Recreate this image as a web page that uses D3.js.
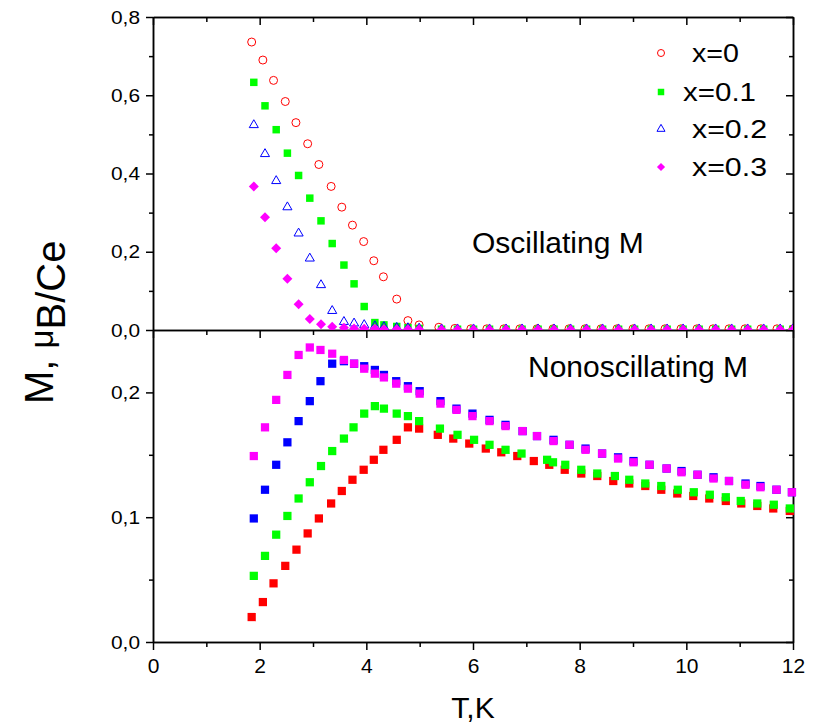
<!DOCTYPE html>
<html>
<head>
<meta charset="utf-8">
<script src="https://cdn.jsdelivr.net/npm/d3@7"></script>
<style>
  body { margin: 0; background: #fff; }
  text { font-family: "Liberation Sans", Arial, sans-serif; }
</style>
</head>
<body>
<div id="my_dataviz"></div>
<script>
// ---- data ----
// top panel: oscillating M
var oscT0 = [1.85, 2.06, 2.26, 2.48, 2.68, 2.90, 3.11, 3.34, 3.54, 3.74, 3.95, 4.14, 4.32, 4.57, 4.78, 4.99,
    5.36, 5.66, 5.96, 6.26, 6.58, 6.88, 7.20, 7.50, 7.80, 8.10, 8.40, 8.70, 9.00, 9.30, 9.60, 9.90, 10.20, 10.50, 10.80, 11.10, 11.40, 11.70, 12.00];
var oscM0 = [0.736, 0.690, 0.638, 0.584, 0.530, 0.476, 0.423, 0.367, 0.314, 0.268, 0.226, 0.177, 0.136, 0.079, 0.024, 0.013,
    0.007, 0.004, 0.003, 0.003, 0.003, 0.003, 0.003, 0.003, 0.003, 0.003, 0.003, 0.003, 0.003, 0.003, 0.003, 0.003, 0.003, 0.003, 0.003, 0.003, 0.003, 0.003, 0.003];
var oscT = [1.89, 2.10, 2.31, 2.52, 2.73, 2.94, 3.15, 3.36, 3.58, 3.77, 3.96, 4.16, 4.33, 4.57, 4.78, 4.99,
    5.41, 5.71, 6.01, 6.31, 6.62, 6.92, 7.22, 7.52, 7.83, 8.13, 8.43, 8.73, 9.03, 9.34, 9.64, 9.94, 10.24, 10.55, 10.85, 11.15, 11.45, 11.76, 12.00];
var oscM1 = [0.633, 0.573, 0.512, 0.452, 0.395, 0.337, 0.279, 0.221, 0.166, 0.118, 0.060, 0.019, 0.013, 0.009, 0.006, 0.004,
    0.002, 0.002, 0.002, 0.002, 0.002, 0.002, 0.002, 0.002, 0.002, 0.002, 0.002, 0.002, 0.002, 0.002, 0.002, 0.002, 0.002, 0.002, 0.002, 0.002, 0.002, 0.002, 0.002];
var oscM2 = [0.524, 0.450, 0.381, 0.314, 0.247, 0.183, 0.115, 0.049, 0.021, 0.017, 0.013, 0.010, 0.008, 0.006, 0.005, 0.004,
    0.002, 0.002, 0.002, 0.002, 0.002, 0.002, 0.002, 0.002, 0.002, 0.002, 0.002, 0.002, 0.002, 0.002, 0.002, 0.002, 0.002, 0.002, 0.002, 0.002, 0.002, 0.002, 0.002];
var oscM3 = [0.367, 0.288, 0.209, 0.131, 0.066, 0.028, 0.015, 0.008, 0.006, 0.004, 0.003, 0.003, 0.002, 0.002, 0.002, 0.002,
    0.001, 0.001, 0.001, 0.001, 0.001, 0.001, 0.001, 0.001, 0.001, 0.001, 0.001, 0.001, 0.001, 0.001, 0.001, 0.001, 0.001, 0.001, 0.001, 0.001, 0.001, 0.001, 0.001];

// bottom panel: nonoscillating M
var nonT0 = [1.85, 2.06, 2.26, 2.48, 2.69, 2.90, 3.11, 3.34, 3.54, 3.74, 3.95, 4.14, 4.32, 4.57, 4.78, 4.99,
    5.34, 5.63, 5.93, 6.24, 6.53, 6.83, 7.14, 7.43, 7.72, 8.03, 8.33, 8.63, 8.93, 9.23, 9.53, 9.83, 10.13, 10.43, 10.74, 11.03, 11.33, 11.63, 11.94];
var nonM0 = [0.020, 0.032, 0.047, 0.061, 0.074, 0.087, 0.099, 0.111, 0.121, 0.130, 0.138, 0.146, 0.154, 0.162, 0.172, 0.171,
    0.166, 0.163, 0.159, 0.155, 0.152, 0.149, 0.145, 0.142, 0.138, 0.135, 0.133, 0.129, 0.127, 0.125, 0.122, 0.119, 0.117, 0.115, 0.113, 0.111, 0.109, 0.107, 0.105];
var nonT1 = [1.89, 2.10, 2.31, 2.52, 2.73, 2.94, 3.15, 3.36, 3.58, 3.76, 3.96, 4.16, 4.33, 4.57, 4.78, 4.99,
    5.38, 5.71, 6.02, 6.31, 6.61, 6.91, 7.39, 7.50, 7.73, 8.03, 8.33, 8.66, 8.93, 9.23, 9.53, 9.84, 10.14, 10.44, 10.74, 11.02, 11.33, 11.64, 11.94];
var nonM1 = [0.053, 0.069, 0.086, 0.101, 0.115, 0.128, 0.141, 0.153, 0.163, 0.172, 0.183, 0.189, 0.187, 0.183, 0.181, 0.177,
    0.171, 0.166, 0.162, 0.158, 0.154, 0.151, 0.146, 0.144, 0.142, 0.138, 0.135, 0.133, 0.130, 0.127, 0.125, 0.122, 0.120, 0.118, 0.116, 0.113, 0.111, 0.110, 0.107];
var nonT23 = [1.89, 2.10, 2.31, 2.52, 2.73, 2.94, 3.14, 3.36, 3.58, 3.77, 3.96, 4.16, 4.33, 4.56, 4.78, 5.00,
    5.39, 5.69, 5.99, 6.31, 6.61, 6.93, 7.20, 7.51, 7.81, 8.11, 8.42, 8.72, 9.01, 9.31, 9.63, 9.91, 10.21, 10.51, 10.80, 11.11, 11.39, 11.69, 11.98];
var nonM2 = [0.099, 0.122, 0.142, 0.160, 0.177, 0.193, 0.209, 0.223, 0.225, 0.223, 0.221, 0.218, 0.214, 0.209, 0.205, 0.201,
    0.193, 0.187, 0.183, 0.178, 0.174, 0.169, 0.165, 0.162, 0.158, 0.155, 0.151, 0.148, 0.145, 0.142, 0.139, 0.137, 0.134, 0.132, 0.129, 0.127, 0.125, 0.122, 0.120];
var nonM3 = [0.149, 0.172, 0.194, 0.214, 0.230, 0.236, 0.234, 0.231, 0.226, 0.223, 0.219, 0.215, 0.212, 0.207, 0.203, 0.199,
    0.191, 0.186, 0.181, 0.177, 0.173, 0.169, 0.165, 0.161, 0.158, 0.154, 0.151, 0.147, 0.144, 0.142, 0.139, 0.136, 0.134, 0.131, 0.129, 0.126, 0.124, 0.122, 0.120];

var legendLabels = ["x=0", "x=0.1", "x=0.2", "x=0.3"];
var xMajorTicks = [0, 2, 4, 6, 8, 10, 12];
var xMinorTicks = [1, 3, 5, 7, 9, 11];
var topMajorTicks = [0, 0.2, 0.4, 0.6, 0.8];
var topMinorTicks = [0.1, 0.3, 0.5, 0.7];
var botMajorTicks = [0, 0.1, 0.2];
var botMinorTicks = [0.05, 0.15];

function zip(ts, ms) { return ts.map(function (t, i) { return [t, ms[i]]; }); }

// 1) canvas
var svg = d3.select("#my_dataviz")
    .append("svg")
    .attr("width", 814)
    .attr("height", 725);

var plotLeft = 153, plotRight = 793, plotTop = 17, plotMid = 330, plotBottom = 642;

var x = d3.scaleLinear().domain([0, 12]).range([plotLeft, plotRight]);
var yTop = d3.scaleLinear().domain([0, 0.8]).range([plotMid, plotTop]);
var yBot = d3.scaleLinear().domain([0, 0.25]).range([plotBottom, plotMid]);

var comma = function (d) { return d3.format(".1f")(d).replace(".", ","); };

// 2) axes
function styleAxis(g) {
    g.select(".domain").attr("stroke-width", 1.5);
    g.selectAll(".tick line").attr("stroke-width", 1.5);
    g.attr("font-family", null).attr("font-size", null);
}

// bottom axis, labelled
svg.append("g").attr("transform", "translate(0," + plotBottom + ")")
    .call(d3.axisBottom(x).tickValues(xMajorTicks).tickSize(8).tickSizeOuter(0).tickPadding(8).tickFormat(d3.format("d")))
    .call(styleAxis)
    .selectAll("text").style("font-size", "21px");
svg.append("g").attr("transform", "translate(0," + plotBottom + ")")
    .call(d3.axisBottom(x).tickValues(xMinorTicks).tickSize(5).tickSizeOuter(0).tickFormat(""))
    .call(styleAxis);

// middle line and top line, ticks pointing down
[plotMid, plotTop].forEach(function (yy) {
    svg.append("g").attr("transform", "translate(0," + yy + ")")
        .call(d3.axisBottom(x).tickValues(xMajorTicks).tickSize(8).tickSizeOuter(0).tickFormat(""))
        .call(styleAxis);
    svg.append("g").attr("transform", "translate(0," + yy + ")")
        .call(d3.axisBottom(x).tickValues(xMinorTicks).tickSize(5).tickSizeOuter(0).tickFormat(""))
        .call(styleAxis);
});

// left axes, labelled; right axes, ticks inward
[[yTop, topMajorTicks, topMinorTicks], [yBot, botMajorTicks, botMinorTicks]].forEach(function (a) {
    svg.append("g").attr("transform", "translate(" + plotLeft + ",0)")
        .call(d3.axisLeft(a[0]).tickValues(a[1]).tickSize(7).tickSizeOuter(0).tickPadding(6).tickFormat(comma))
        .call(styleAxis)
        .selectAll("text").style("font-size", "19px")
        .attr("textLength", 29).attr("lengthAdjust", "spacingAndGlyphs");
    svg.append("g").attr("transform", "translate(" + plotLeft + ",0)")
        .call(d3.axisLeft(a[0]).tickValues(a[2]).tickSize(4).tickSizeOuter(0).tickFormat(""))
        .call(styleAxis);
    svg.append("g").attr("transform", "translate(" + plotRight + ",0)")
        .call(d3.axisLeft(a[0]).tickValues(a[1]).tickSize(7).tickSizeOuter(0).tickFormat(""))
        .call(styleAxis);
    svg.append("g").attr("transform", "translate(" + plotRight + ",0)")
        .call(d3.axisLeft(a[0]).tickValues(a[2]).tickSize(4).tickSizeOuter(0).tickFormat(""))
        .call(styleAxis);
});

// 3) markers
svg.append("clipPath").attr("id", "clipTop")
    .append("rect").attr("x", plotLeft).attr("y", plotTop).attr("width", plotRight - plotLeft).attr("height", plotMid - plotTop);

var sq = d3.symbol().type(d3.symbolSquare);
var gTop = svg.append("g").attr("clip-path", "url(#clipTop)");

// x=0 open circles
gTop.selectAll("circle.s0").data(zip(oscT0, oscM0)).enter().append("circle")
    .attr("cx", function (d) { return x(d[0]); })
    .attr("cy", function (d) { return yTop(d[1]); })
    .attr("r", 4).attr("fill", "none").attr("stroke", "#ff0000").attr("stroke-width", 1);
// x=0.1 squares
gTop.selectAll("path.s1").data(zip(oscT, oscM1)).enter().append("path")
    .attr("d", sq.size(56)())
    .attr("transform", function (d) { return "translate(" + x(d[0]) + "," + yTop(d[1]) + ")"; })
    .attr("fill", "#00ff00");
// x=0.2 open triangles
gTop.selectAll("path.s2").data(zip(oscT, oscM2)).enter().append("path")
    .attr("d", d3.symbol().type(d3.symbolTriangle).size(36)())
    .attr("transform", function (d) { return "translate(" + x(d[0]) + "," + yTop(d[1]) + ")"; })
    .attr("fill", "none").attr("stroke", "#0000ff").attr("stroke-width", 1);
// x=0.3 diamonds
gTop.selectAll("path.s3").data(zip(oscT, oscM3)).enter().append("path")
    .attr("d", sq.size(50)())
    .attr("transform", function (d) { return "translate(" + x(d[0]) + "," + yTop(d[1]) + ") rotate(45)"; })
    .attr("fill", "#ff00ff");

// bottom panel, all squares
var gBot = svg.append("g");
[[nonT0, nonM0, "#ff0000"], [nonT1, nonM1, "#00ff00"], [nonT23, nonM2, "#0000ff"], [nonT23, nonM3, "#ff00ff"]].forEach(function (s) {
    gBot.append("g").selectAll("path").data(zip(s[0], s[1])).enter().append("path")
        .attr("d", sq.size(68)())
        .attr("transform", function (d) { return "translate(" + x(d[0]) + "," + yBot(d[1]) + ")"; })
        .attr("fill", s[2]);
});

// 4) labels
svg.append("text").attr("x", 472).attr("y", 253).text("Oscillating M").style("font-size", "30px");
svg.append("text").attr("x", 528).attr("y", 377).text("Nonoscillating M").style("font-size", "30px");

svg.append("text").attr("x", 473).attr("y", 718).attr("text-anchor", "middle")
    .text("T,K").style("font-size", "30px");

var yLab = svg.append("text").attr("transform", "translate(53,404) rotate(-90)").style("font-size", "40px");
yLab.append("tspan").text("M, ");
yLab.append("tspan").text("\u03bc").style("font-size", "33px");
yLab.append("tspan").attr("dy", 12).text("B/Ce");

// 5) legend
var legY = [53, 92, 129, 167];
var legX = [692, 683, 692, 692];
var legW = [47, 73, 75, 75];
svg.append("circle").attr("cx", 661).attr("cy", legY[0]).attr("r", 3.5)
    .attr("fill", "none").attr("stroke", "#ff0000").attr("stroke-width", 1);
svg.append("path").attr("d", sq.size(42)()).attr("transform", "translate(661," + legY[1] + ")").attr("fill", "#00ff00");
svg.append("path").attr("d", d3.symbol().type(d3.symbolTriangle).size(28)())
    .attr("transform", "translate(661," + legY[2] + ")")
    .attr("fill", "none").attr("stroke", "#0000ff").attr("stroke-width", 1);
svg.append("path").attr("d", sq.size(34)()).attr("transform", "translate(661," + legY[3] + ") rotate(45)").attr("fill", "#ff00ff");
legendLabels.forEach(function (l, i) {
    svg.append("text").attr("x", legX[i]).attr("y", legY[i] + 9).text(l)
        .style("font-size", "26px")
        .attr("textLength", legW[i]).attr("lengthAdjust", "spacingAndGlyphs");
});
</script>
</body>
</html>
